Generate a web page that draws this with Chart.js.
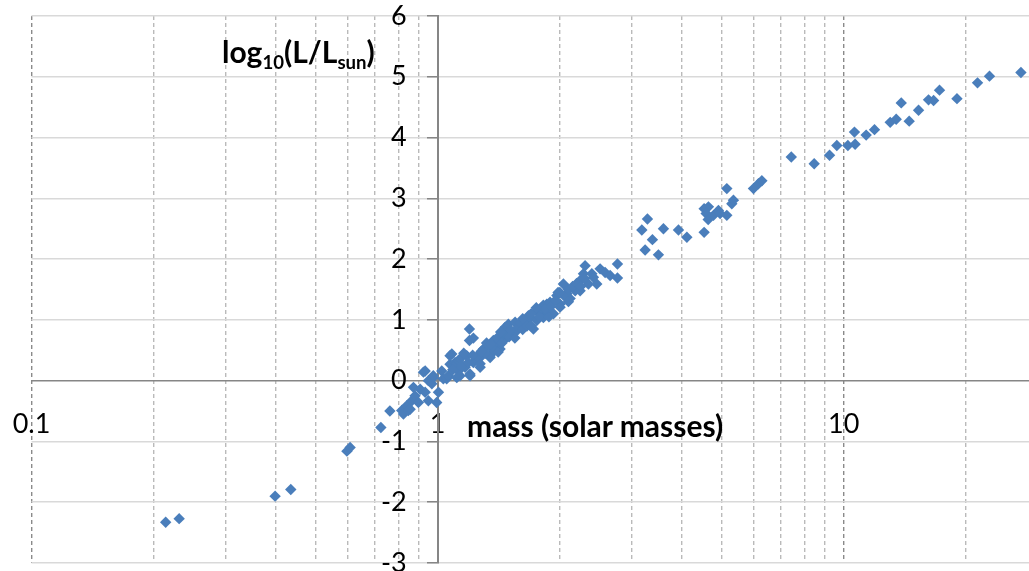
<!DOCTYPE html>
<html><head><meta charset="utf-8">
<script src="https://cdn.jsdelivr.net/npm/chart.js@4.4.1/dist/chart.umd.min.js"></script>
<style>
html,body{margin:0;padding:0;background:#fff;}
#wrap{position:relative;width:1029px;height:571px;overflow:hidden;}
canvas{position:absolute;left:0;top:0;}
.title{position:absolute;font-family:Lato,'Open Sans',sans-serif;font-weight:700;color:#000;white-space:nowrap;line-height:1;font-size:30px;}
.title sub{font-size:0.62em;vertical-align:baseline;position:relative;top:0.3em;}
</style></head><body>
<div id="wrap"><canvas id="c" width="1029" height="571"></canvas>
<div class="title" id="ytitle" style="left:222px;top:36px;">log<sub>10</sub>(L/L<sub>sun</sub>)</div>
<div class="title" id="xtitle" style="left:467px;top:410px;">mass (solar masses)</div>
</div>
<script>
// stellar mass (solar masses)
const mass = [
0.214,0.231,0.398,0.435,0.598,0.609,0.725,0.763,0.816,0.824,
0.840,0.847,0.856,0.864,0.880,0.872,0.897,0.906,0.923,0.932,
0.932,0.949,0.949,0.968,0.976,0.976,0.995,1.005,1.024,1.033,
1.053,1.063,1.073,1.073,1.084,1.104,1.115,1.115,1.125,1.125,
1.136,1.136,1.169,1.180,1.202,1.202,1.198,1.198,1.225,1.225,
1.273,1.273,1.273,1.297,1.347,1.347,1.347,1.372,1.399,1.425,
1.425,1.467,1.480,1.494,1.523,1.537,1.552,1.567,1.643,1.674,
1.690,1.722,1.755,1.755,1.788,1.822,1.822,1.858,1.858,1.892,
1.929,1.966,2.003,2.003,2.041,2.081,2.120,2.182,2.244,2.244,
2.287,2.308,2.352,2.398,2.466,2.513,2.586,2.660,2.773,2.773,
1.15,1.19,1.25,1.31,1.32,1.38,1.40,1.44,1.46,1.50,
1.51,1.58,1.60,1.62,1.66,1.70,1.78,1.80,1.84,1.90,
1.95,1.98,2.06,2.10,2.15,2.20,2.30,2.42,
1.22,1.28,1.35,1.41,1.43,1.55,1.62,1.70,1.75,1.88,
2.00,2.10,2.25,1.09,1.16,
3.184,3.287,3.381,3.244,3.498,3.599,3.919,4.110,4.533,4.533,
4.645,4.585,4.638,4.779,4.916,4.963,5.155,5.303,5.352,5.155,
5.996,6.168,6.288,
7.43,8.46,9.23,9.62,10.24,10.67,10.63,11.36,11.91,13.02,
13.47,13.86,14.50,15.29,16.18,16.65,17.22,19.01,21.36,22.86,27.32
];
// log10 of luminosity (solar luminosities)
const logL = [
-2.33,-2.27,-1.90,-1.79,-1.16,-1.10,-0.77,-0.50,-0.49,-0.55,
-0.41,-0.49,-0.47,-0.33,-0.25,-0.11,-0.36,-0.14,0.14,-0.19,
0.16,0.00,-0.33,-0.05,0.05,0.08,-0.36,-0.19,0.16,0.03,
0.03,0.08,0.27,0.41,0.44,0.30,0.05,0.28,0.16,0.33,
0.36,0.08,0.22,0.41,0.08,0.11,0.85,0.66,0.70,0.30,
0.38,0.22,0.28,0.52,0.55,0.38,0.41,0.66,0.60,0.71,
0.52,0.88,0.71,0.93,0.77,0.80,0.96,0.82,0.96,1.07,
1.04,0.85,0.99,1.15,1.15,1.04,1.24,1.26,1.13,1.29,
1.10,1.40,1.26,1.21,1.59,1.43,1.35,1.48,1.65,1.48,
1.76,1.89,1.59,1.76,1.59,1.84,1.78,1.73,1.92,1.69,
0.25,0.30,0.40,0.45,0.62,0.50,0.70,0.62,0.78,0.72,
0.84,0.88,0.95,0.84,0.90,1.10,1.05,1.20,1.18,1.22,
1.32,1.45,1.38,1.50,1.55,1.60,1.68,1.70,
0.42,0.48,0.60,0.47,0.80,0.70,1.02,0.90,1.20,1.05,
1.45,1.30,1.55,0.18,0.45,
2.48,2.66,2.32,2.15,2.07,2.50,2.48,2.36,2.44,2.83,
2.86,2.75,2.65,2.72,2.80,2.75,2.72,2.91,2.97,3.16,
3.16,3.24,3.29,
3.68,3.57,3.71,3.87,3.87,3.89,4.09,4.04,4.13,4.25,
4.30,4.57,4.27,4.45,4.62,4.61,4.78,4.64,4.90,5.01,5.07
];
const xTickValues = [0.1,0.2,0.3,0.4,0.5,0.6,0.7,0.8,0.9,1,2,3,4,5,6,7,8,9,10,20];
const xTickLabels = ['0.1','','','','','','','','','1','','','','','','','','','10',''];
const xMajor = [0.1,1,10];
const yMin = -3, yMax = 6;

const points = mass.map((m,i)=>({x:m,y:logL[i]}));

const yLabelShift = {
  id:'yLabelShift',
  beforeDraw(chart){
    const s = chart.scales.y;
    const axisX = chart.scales.x.getPixelForValue(1);
    const items = s._computeLabelItems(chart.chartArea);
    items.forEach(it => { it.options.translation[0] = axisX - 31; it.options.textAlign = 'right'; });
    s._labelItems = items;
  }
};
const zeroPad = s => { s.paddingLeft = 0; s.paddingRight = 0; s.paddingTop = 0; s.paddingBottom = 0; };

new Chart(document.getElementById('c'), {
  type:'scatter',
  data:{datasets:[{data:points, pointStyle:'rectRot', pointRadius:5.7, pointHoverRadius:5.7,
    backgroundColor:'#4a7ebb', borderColor:'#4a7ebb', borderWidth:0, clip:false}]},
  options:{
    responsive:false, animation:false, events:[],
    layout:{autoPadding:false, padding:{left:31.5, top:16, right:0, bottom:8}},
    plugins:{legend:{display:false}, tooltip:{enabled:false}},
    scales:{
      x:{type:'logarithmic', min:0.1, max:28.6, position:{y:0},
        afterBuildTicks: s => { s.ticks = xTickValues.map(v=>({value:v})); },
        afterFit: zeroPad,
        ticks:{autoSkip:false, maxRotation:0, minRotation:0,
          callback:(v,i)=> xTickLabels[i],
          font:{family:'Lato', size:27}, color:'#000', padding:27},
        grid:{color: c => (c.tick && xMajor.includes(c.tick.value)) ? '#8a8a8a' : '#bababa',
          lineWidth:1.4, drawTicks:false},
        border:{display:true, color:'#868686', width:1.6, dash:[4,3]}
      },
      y:{type:'linear', min:yMin, max:yMax, position:{x:1},
        afterFit: zeroPad,
        ticks:{stepSize:1, font:{family:'Lato', size:27}, color:'#000', padding:21},
        grid:{color: c => (c.tick && c.tick.value === 0) ? 'rgba(0,0,0,0)' : '#d9d9d9',
          lineWidth:1.5, tickLength:10, tickColor:'#868686', tickWidth:1.5},
        border:{color:'#868686', width:2}
      }
    }
  },
  plugins:[yLabelShift]
});
</script>
</body></html>
